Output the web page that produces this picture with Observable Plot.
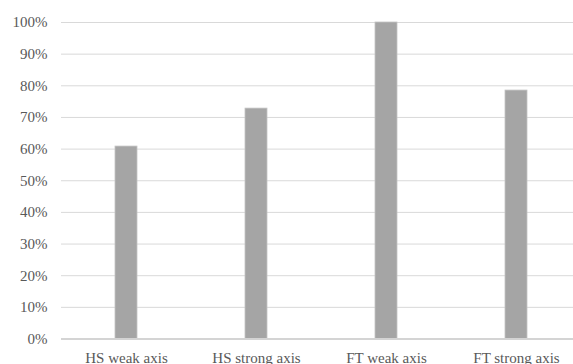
<!DOCTYPE html>
<html>
<head>
<meta charset="utf-8">
<script src="https://cdn.jsdelivr.net/npm/d3@7"></script>
<script src="https://cdn.jsdelivr.net/npm/@observablehq/plot@0.6"></script>
<style>
  html, body { margin: 0; padding: 0; background: #fff; }
  #chart svg { display: block; }
</style>
</head>
<body>
<div id="chart"></div>
<script>
// Share of specimens per loading case
const categories = ["HS weak axis", "HS strong axis", "FT weak axis", "FT strong axis"];
const shares = [0.608, 0.728, 1.0, 0.785];
const yTicks = [0, 0.1, 0.2, 0.3, 0.4, 0.5, 0.6, 0.7, 0.8, 0.9, 1.0];

const data = categories.map((c, i) => ({category: c, share: shares[i]}));
const pct = d => Math.round(d * 100) + "%";

const chart = Plot.plot({
  width: 573,
  height: 364,
  marginLeft: 61,
  marginRight: 0,
  marginTop: 22,
  marginBottom: 25.5,
  style: {
    fontFamily: "'Liberation Serif', 'Times New Roman', serif",
    fontSize: "15px",
    color: "#595959",
    background: "#fff"
  },
  x: {domain: categories, range: [61, 582], paddingInner: 0.83, paddingOuter: 0.415, align: 0.5},
  y: {domain: [0, 1]},
  marks: [
    Plot.ruleY(yTicks.filter(d => d > 0), {stroke: "#d9d9d9", strokeWidth: 1}),
    Plot.barY(data, {x: "category", y: "share", fill: "#a5a5a5", stroke: "#c4c4c4", strokeWidth: 0.8}),
    Plot.ruleY([0], {stroke: "#d4d4d4", strokeWidth: 2}),
    Plot.axisY({ticks: yTicks, tickFormat: pct, tickSize: 0, tickPadding: 14, fontSize: 15, label: null}),
    Plot.axisX({tickSize: 0, tickPadding: 13, fontSize: 15, label: null})
  ]
});

document.getElementById("chart").appendChild(chart);
</script>
</body>
</html>
